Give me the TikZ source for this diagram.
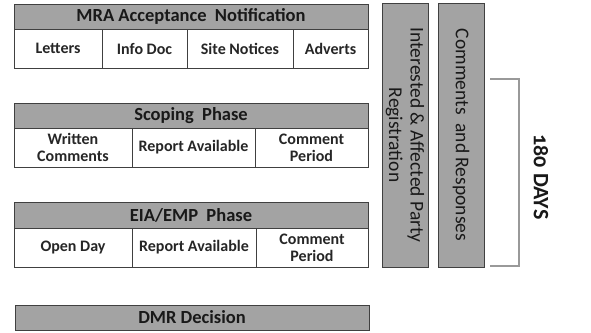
\documentclass[tikz,border=0pt]{standalone}
\usepackage{fontspec}
\setmainfont{Carlito}[Numbers=OldStyle]
\usetikzlibrary{positioning}

\begin{document}
\begin{tikzpicture}[x=1pt, y=-1pt, node distance = 0pt and 0pt,
    head/.style={rectangle,minimum width=354pt,minimum height=25pt,inner sep=0pt,outer sep=0pt,
                 line width=0.9pt,draw=black!75,fill=black!36,text=black!90,font=\bfseries\fontsize{18.5}{20}\selectfont},
    cell/.style={rectangle,minimum height=39pt,inner sep=0pt,outer sep=0pt,align=center,
                 line width=0.9pt,draw=black!75,fill=white,text=black!85,font=\bfseries\fontsize{16}{17}\selectfont},
    bar/.style={rectangle,minimum width=264pt,minimum height=46pt,inner sep=0pt,outer sep=0pt,align=center,rotate=-90,
                line width=0.9pt,draw=black!75,fill=black!36,text=black!90,font=\fontsize{19.5}{21.5}\selectfont},
   ]
    \useasboundingbox (0,0) rectangle (591,332);

    % MRA notification
    \node (mra) [head,anchor=north west] at (14,4) {MRA Acceptance\ \ Notification};
    \node (letters) [cell,minimum width=88pt,below right=of mra.south west] {Letters};
    \node (info)    [cell,minimum width=85pt,right=of letters] {Info Doc};
    \node (site)    [cell,minimum width=106pt,right=of info] {Site Notices};
    \node (adverts) [cell,minimum width=75pt,right=of site] {Adverts};

    % scoping
    \node (scope) [head,anchor=north west] at (14,103) {Scoping\ \ Phase};
    \node (written)  [cell,minimum width=118pt,below right=of scope.south west] {Written\\Comments};
    \node (report1)  [cell,minimum width=123pt,right=of written] {Report Available};
    \node (comment1) [cell,minimum width=113pt,right=of report1] {Comment\\Period};

    % EIA/EMP
    \node (eia) [head,minimum height=26pt,anchor=north west] at (14,202) {EIA/EMP\ \ Phase};
    \node (openday)  [cell,minimum width=118pt,below right=of eia.south west] {Open Day};
    \node (report2)  [cell,minimum width=124pt,right=of openday] {Report Available};
    \node (comment2) [cell,minimum width=112pt,right=of report2] {Comment\\Period};

    \node (dmr) [head,anchor=north west] at (15,305) {DMR Decision};

    % side bars
    \node (iap)  [bar] at (405,135) {Interested \& Affected Party\\Registration};
    \node (resp) [bar] at (461,135) {Comments\ \ and Responses};

    \coordinate (brtop) at (490,79);
    \coordinate (brbot) at (490,266);
    \draw[line width=1.5pt, black!40] (brtop) -- ++(29,0) |- (brbot);
    \node (days) [rotate=-90,text=black!90,font=\bfseries\fontsize{22}{24}\selectfont] at (541,177) {180 DAYS};
   \end{tikzpicture}
\end{document}
